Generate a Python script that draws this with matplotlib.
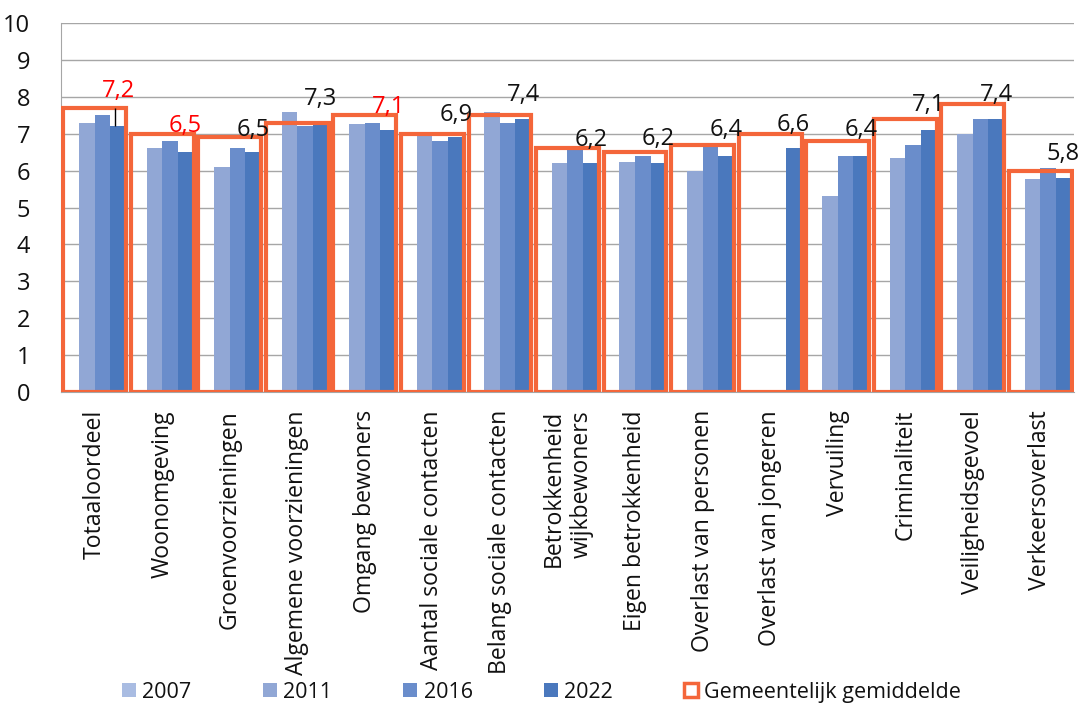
import numpy as np
import matplotlib
matplotlib.use("Agg")
import matplotlib.pyplot as plt
from matplotlib.patches import Patch

plt.rcParams['font.family'] = ['Open Sans', 'DejaVu Sans']

categories = ["Totaaloordeel", "Woonomgeving", "Groenvoorzieningen",
              "Algemene voorzieningen", "Omgang bewoners", "Aantal sociale contacten",
              "Belang sociale contacten", "Betrokkenheid\nwijkbewoners", "Eigen betrokkenheid",
              "Overlast van personen", "Overlast van jongeren", "Vervuiling",
              "Criminaliteit", "Veiligheidsgevoel", "Verkeersoverlast"]
years = ["2007", "2011", "2016", "2022"]
v2007 = [None, None, None, None, None, None, None, None, None, None, None, None, None, None, None]
v2011 = [7.3, 6.6, 6.1, 7.6, 7.25, 6.95, 7.6, 6.2, 6.23, 6.0, None, 5.3, 6.33, 7.0, 5.78]
v2016 = [7.5, 6.8, 6.6, 7.2, 7.3, 6.8, 7.3, 6.55, 6.4, 6.65, None, 6.4, 6.7, 7.4, 6.08]
v2022 = [7.2, 6.5, 6.5, 7.3, 7.1, 6.9, 7.4, 6.2, 6.2, 6.4, 6.6, 6.4, 7.1, 7.4, 5.8]
gemiddelde = [7.7, 7.0, 6.9, 7.3, 7.5, 7.0, 7.5, 6.6, 6.5, 6.7, 7.0, 6.8, 7.4, 7.8, 6.0]
labels_2022 = ["7,2", "6,5", "6,5", "7,3", "7,1", "6,9", "7,4", "6,2", "6,2", "6,4",
               "6,6", "6,4", "7,1", "7,4", "5,8"]
label_red = [True, True, False, False, True, False, False, False, False, False,
             False, False, False, False, False]
# label placement (offset above average box, in axis units)
label_dy = [0.46, 0.22, 0.21, 0.64, 0.22, 0.5, 0.56, 0.23, 0.36, 0.4, 0.23, 0.3, 0.38, 0.24, 0.46]

colors = ["#A9BCE2", "#91A7D5", "#6A8DCB", "#4A78BD"]
orange = "#F4663A"

def arr(v):
    return np.array([np.nan if x is None else x for x in v], dtype=float)

series = [arr(v2007), arr(v2011), arr(v2016), arr(v2022)]

fig = plt.figure(figsize=(10.83, 7.07), dpi=100)
ax = fig.add_axes([0.0563, 0.4455, 0.9354, 0.522])

x = np.arange(len(categories))
bw = 0.23
offsets = (np.arange(4) - 1.5) * bw
for s, off, c in zip(series, offsets, colors):
    ax.bar(x + off, np.nan_to_num(s), width=bw, color=c, zorder=2, linewidth=0)

ax.bar(x, gemiddelde, width=0.93, facecolor='none', edgecolor=orange,
       linewidth=3, zorder=3)

for i in range(len(categories)):
    ax.text(x[i] + offsets[3], gemiddelde[i] + label_dy[i], labels_2022[i],
            ha='center', va='center', fontsize=17,
            color='#FF0000' if label_red[i] else '#111111', zorder=4)

# leader line for the first label
ax.vlines(x[0] + offsets[3] - 0.05, series[3][0], gemiddelde[0],
          color='black', linewidth=1, zorder=4)

ax.set_xlim(-0.5, len(categories) - 0.5)
ax.set_ylim(0, 10)
ax.set_yticks(range(0, 11))
ax.yaxis.grid(True, color='#A6A6A6', linewidth=1)
ax.set_axisbelow(True)
for sp in ['top', 'right']:
    ax.spines[sp].set_visible(False)
ax.spines['left'].set_color('#A6A6A6')
ax.spines['bottom'].set_color('#A6A6A6')
ax.tick_params(axis='y', length=0, pad=22, labelsize=17, labelcolor='#111111')
ax.tick_params(axis='x', length=0, pad=13)
ax.set_xticks(x)
ax.set_xticklabels(categories, rotation=90, fontsize=16.6, va='top', ha='center',
                   ma='right', color='#111111')

handles = [Patch(facecolor=c, edgecolor='none') for c in colors]
handles.append(Patch(facecolor='white', edgecolor=orange, linewidth=2.5))
fig.legend(handles, years + ["Gemeentelijk gemiddelde"], loc='center',
           bbox_to_anchor=(0.50, 0.0212), ncol=5, frameon=False, fontsize=15.5,
           borderpad=0.0, handlelength=0.65, handleheight=0.65, handletextpad=0.3,
           columnspacing=3.3, labelcolor='#111111')

fig.savefig("out.png", dpi=100)
